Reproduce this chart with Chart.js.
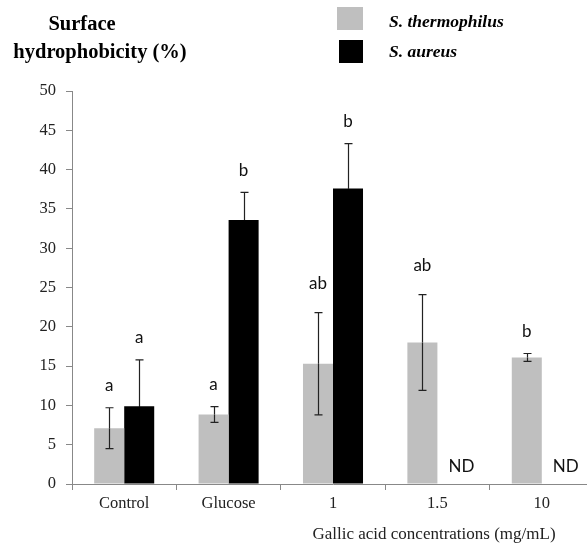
<!DOCTYPE html>
<html>
<head>
<meta charset="utf-8">
<script src="https://cdn.jsdelivr.net/npm/chart.js@4"></script>
<style>
  html, body { margin: 0; padding: 0; background: #fff; overflow: hidden; }
  #wrap { width: 600px; height: 549px; }
</style>
</head>
<body>
<div id="wrap"><canvas id="myChart" width="600" height="549"></canvas></div>
<script>
const categories = ['Control', 'Glucose', '1', '1.5', '10'];
const thermoValues = [7.1, 8.85, 15.3, 18.0, 16.1];
const thermoErrors = [2.6, 1.0, 6.5, 6.1, 0.5];
const aureusValues = [9.9, 33.6, 37.6, null, null];
const aureusErrors = [5.9, 3.5, 5.7, null, null];
const thermoLetters = ['a', 'a', 'ab', 'ab', 'b'];
const aureusLetters = ['a', 'b', 'b', 'ND', 'ND'];
const yTicks = [0, 5, 10, 15, 20, 25, 30, 35, 40, 45, 50];
const seriesNames = ['S. thermophilus', 'S. aureus'];
const yTitle = ['Surface', 'hydrophobicity (%)'];
const xTitle = 'Gallic acid concentrations (mg/mL)';

const serif = '"Liberation Serif", "Times New Roman", serif';
const sans = 'Lato, "Open Sans", sans-serif';

const errorsByDataset = [thermoErrors, aureusErrors];
const lettersByDataset = [thermoLetters, aureusLetters];
// colour of the lower whisker, it disappears inside the black bars
const lowerWhisker = ['#222', '#000'];

const extras = {
    id: 'extras',
    afterDatasetsDraw(chart) {
        const ctx = chart.ctx;
        const y = chart.scales.y;
        ctx.save();

        // error bars
        ctx.lineWidth = 1.2;
        chart.data.datasets.forEach((ds, di) => {
            const meta = chart.getDatasetMeta(di);
            meta.data.forEach((bar, i) => {
                const v = ds.data[i];
                const e = errorsByDataset[di][i];
                if (v == null || e == null) return;
                const x = Math.round(bar.x) + 0.5;
                const mid = y.getPixelForValue(v);
                const top = y.getPixelForValue(v + e);
                const bot = y.getPixelForValue(v - e);
                ctx.strokeStyle = '#222';
                ctx.beginPath();
                ctx.moveTo(x, top); ctx.lineTo(x, mid);
                ctx.moveTo(x - 4, top); ctx.lineTo(x + 4, top);
                ctx.stroke();
                ctx.strokeStyle = lowerWhisker[di];
                ctx.beginPath();
                ctx.moveTo(x, mid); ctx.lineTo(x, bot);
                ctx.moveTo(x - 4, bot); ctx.lineTo(x + 4, bot);
                ctx.stroke();
            });
        });

        // significance letters
        ctx.fillStyle = '#111';
        ctx.font = '17px ' + sans;
        ctx.textAlign = 'center';
        ctx.textBaseline = 'middle';
        chart.data.datasets.forEach((ds, di) => {
            const meta = chart.getDatasetMeta(di);
            meta.data.forEach((bar, i) => {
                const txt = lettersByDataset[di][i];
                const v = ds.data[i];
                const e = errorsByDataset[di][i];
                if (v == null) {
                    ctx.fillText(txt, bar.x + 9, y.getPixelForValue(0) - 17);
                } else {
                    const gap = txt.length > 1 ? 29 : 22;
                    ctx.fillText(txt, bar.x, y.getPixelForValue(v + e) - gap);
                }
            });
        });

        // y title
        ctx.fillStyle = '#000';
        ctx.font = 'bold 20.5px ' + serif;
        ctx.fillText(yTitle[0], 82, 25);
        ctx.fillText(yTitle[1], 100, 53);

        // legend
        ctx.fillStyle = '#bfbfbf';
        ctx.fillRect(337, 7, 26, 23);
        ctx.fillStyle = '#000';
        ctx.fillRect(339, 40, 24, 23);
        ctx.font = 'italic bold 17.5px ' + serif;
        ctx.textAlign = 'left';
        ctx.fillText(seriesNames[0], 389, 22);
        ctx.fillText(seriesNames[1], 389, 52);

        // x title
        ctx.font = '17px ' + serif;
        ctx.fillStyle = '#222';
        ctx.textAlign = 'center';
        ctx.fillText(xTitle, 434, 535);
        ctx.restore();
    }
};

const ctx = document.getElementById('myChart').getContext('2d');
const chart = new Chart(ctx, {
    type: 'bar',
    data: {
        labels: categories,
        datasets: [{
            label: seriesNames[0],
            data: thermoValues,
            backgroundColor: '#bfbfbf',
            categoryPercentage: 0.575,
            barPercentage: 1.0
        }, {
            label: seriesNames[1],
            data: aureusValues,
            backgroundColor: '#000000',
            categoryPercentage: 0.575,
            barPercentage: 1.0
        }]
    },
    options: {
        responsive: false,
        animation: false,
        layout: { padding: { top: 91, right: 6, bottom: 0, left: 0 } },
        plugins: {
            legend: { display: false },
            tooltip: { enabled: false }
        },
        scales: {
            x: {
                grid: { display: true, drawOnChartArea: false, drawTicks: true, tickLength: 6, color: '#888', offset: true },
                border: { color: '#888', width: 1 },
                ticks: { color: '#222', font: { family: serif, size: 16.5 }, padding: 4 },
                afterFit(scale) { scale.height = 65; }
            },
            y: {
                min: 0,
                max: 50,
                afterBuildTicks(scale) { scale.ticks = yTicks.map(v => ({ value: v })); },
                grid: { display: true, drawOnChartArea: false, drawTicks: true, tickLength: 6, color: '#888' },
                border: { color: '#888', width: 1 },
                ticks: { color: '#222', font: { family: serif, size: 16.5 }, padding: 10 },
                afterFit(scale) { scale.width = 72; }
            }
        }
    },
    plugins: [extras]
});
</script>
</body>
</html>
